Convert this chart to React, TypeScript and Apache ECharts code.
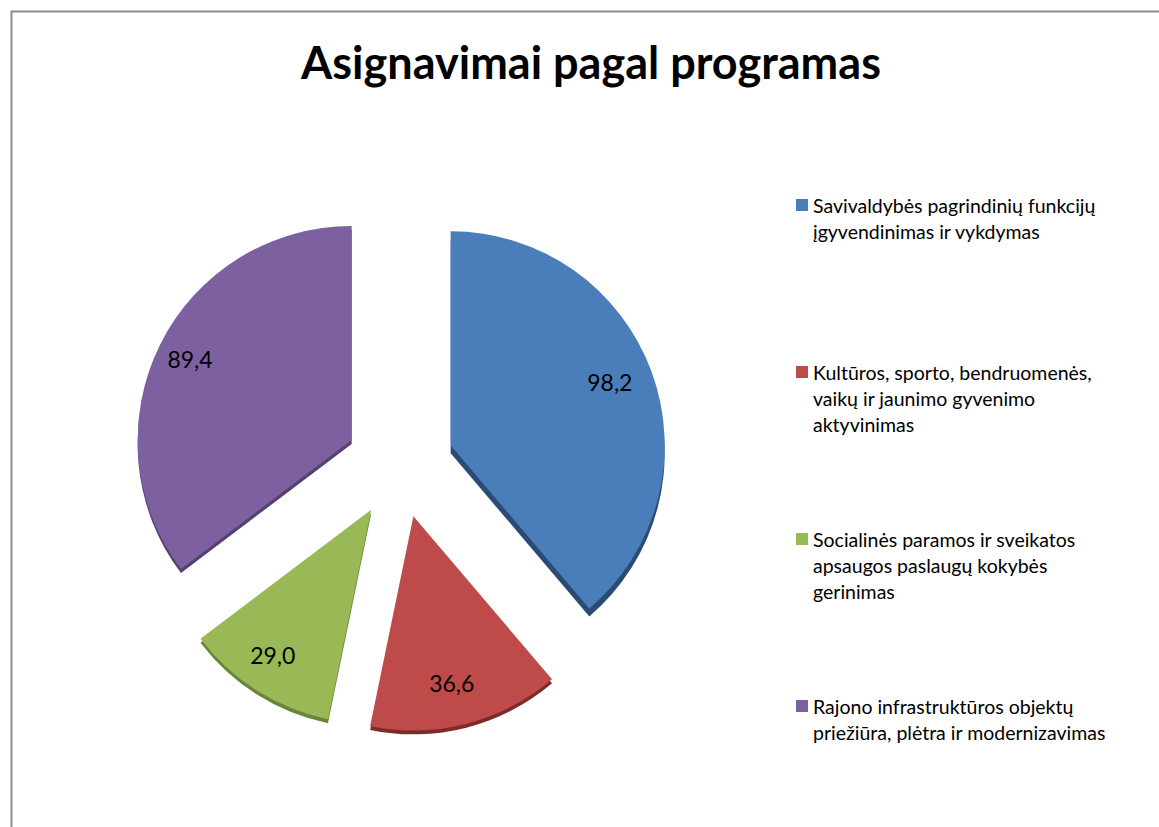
import React, { useEffect, useRef } from "react";
import * as echarts from "echarts";

const titleText = "Asignavimai pagal programas";

const categories = [
  "Savivaldybės pagrindinių funkcijų įgyvendinimas ir vykdymas",
  "Kultūros, sporto, bendruomenės, vaikų ir jaunimo gyvenimo aktyvinimas",
  "Socialinės paramos ir sveikatos apsaugos paslaugų kokybės gerinimas",
  "Rajono infrastruktūros objektų priežiūra, plėtra ir modernizavimas",
];

const values = [98.2, 36.6, 29.0, 89.4];

const legendLines = [
  ["Savivaldybės pagrindinių funkcijų", "įgyvendinimas ir vykdymas"],
  ["Kultūros, sporto, bendruomenės,", "vaikų ir jaunimo gyvenimo", "aktyvinimas"],
  ["Socialinės paramos ir sveikatos", "apsaugos paslaugų kokybės", "gerinimas"],
  ["Rajono infrastruktūros objektų", "priežiūra, plėtra ir modernizavimas"],
];

const colors = ["#4a7ebb", "#be4b48", "#98b954", "#7d60a0"];
const sideColors = ["#2b4b73", "#7d2c2a", "#6a8538", "#553f72"];
const sideDepth = [8, 4, 4, 4];

const FONT = "Lato";

export default function App() {
  const ref = useRef<HTMLDivElement>(null);

  useEffect(() => {
    if (!ref.current) return;
    const chart = echarts.init(ref.current, null, { renderer: "svg" });

    const total = values.reduce((a, b) => a + b, 0);
    let acc = 0;
    const mids = values.map((v) => {
      const m = ((acc + v / 2) / total) * 2 * Math.PI;
      acc += v;
      return m;
    });
    const radius = 214;
    const extra = 0.35 * radius - 10;
    const lineH = 26;
    const maxLines = 3;

    chart.setOption({
      animation: false,
      backgroundColor: "#ffffff",
      title: {
        text: titleText,
        left: 591,
        top: 39,
        padding: 0,
        textAlign: "center",
        textStyle: {
          fontFamily: FONT,
          fontWeight: "bold",
          fontSize: 45,
          color: "#000000",
        },
      },
      legend: {
        orient: "vertical",
        left: 796,
        top: 140,
        padding: 0,
        itemGap: 37,
        icon: "rect",
        itemWidth: 12,
        itemHeight: 12,
        selectedMode: false,
        textStyle: {
          fontFamily: FONT,
          fontSize: 19.5,
          color: "#000000",
          lineHeight: lineH,
          backgroundColor: "rgba(0,0,0,0)",
        },
        data: categories,
        formatter: (name: string) => {
          const lines = legendLines[categories.indexOf(name)];
          const before = new Array(maxLines - 1).fill("");
          const after = new Array(maxLines - lines.length).fill("");
          return [...before, ...lines, ...after].join("\n");
        },
      },
      graphic: [
        {
          type: "rect",
          left: 9,
          top: 9,
          shape: { x: 0, y: 0, width: 1300, height: 1000 },
          style: { fill: "none", stroke: "#8c8c8c", lineWidth: 2 },
          silent: true,
          z: -1,
        },
      ],
      series: [
        {
          type: "pie",
          center: [400, 464],
          radius: radius,
          startAngle: 90,
          clockwise: true,
          selectedMode: "multiple",
          selectedOffset: 54,
          avoidLabelOverlap: false,
          label: {
            show: true,
            position: "inside",
            fontFamily: FONT,
            fontSize: 23,
            color: "#000000",
            formatter: (p: any) => p.value.toFixed(1).replace(".", ","),
          },
          labelLine: { show: false },
          labelLayout: (p: any) => ({
            dx: extra * Math.sin(mids[p.dataIndex]) - 5,
            dy: -extra * Math.cos(mids[p.dataIndex]) - 3,
          }),
          emphasis: { disabled: true },
          select: { itemStyle: { borderWidth: 0 } },
          data: categories.map((name, i) => ({
            name,
            value: values[i],
            selected: true,
            itemStyle: {
              color: colors[i],
              shadowColor: sideColors[i],
              shadowBlur: 0,
              shadowOffsetX: 0,
              shadowOffsetY: sideDepth[i],
            },
            select: {
              itemStyle: {
                color: colors[i],
                shadowColor: sideColors[i],
                shadowBlur: 0,
                shadowOffsetY: sideDepth[i],
              },
            },
          })),
        },
      ],
    });

    return () => chart.dispose();
  }, []);

  return (
    <div
      ref={ref}
      style={{ position: "absolute", left: 0, top: 0, width: 1159, height: 827 }}
    />
  );
}
